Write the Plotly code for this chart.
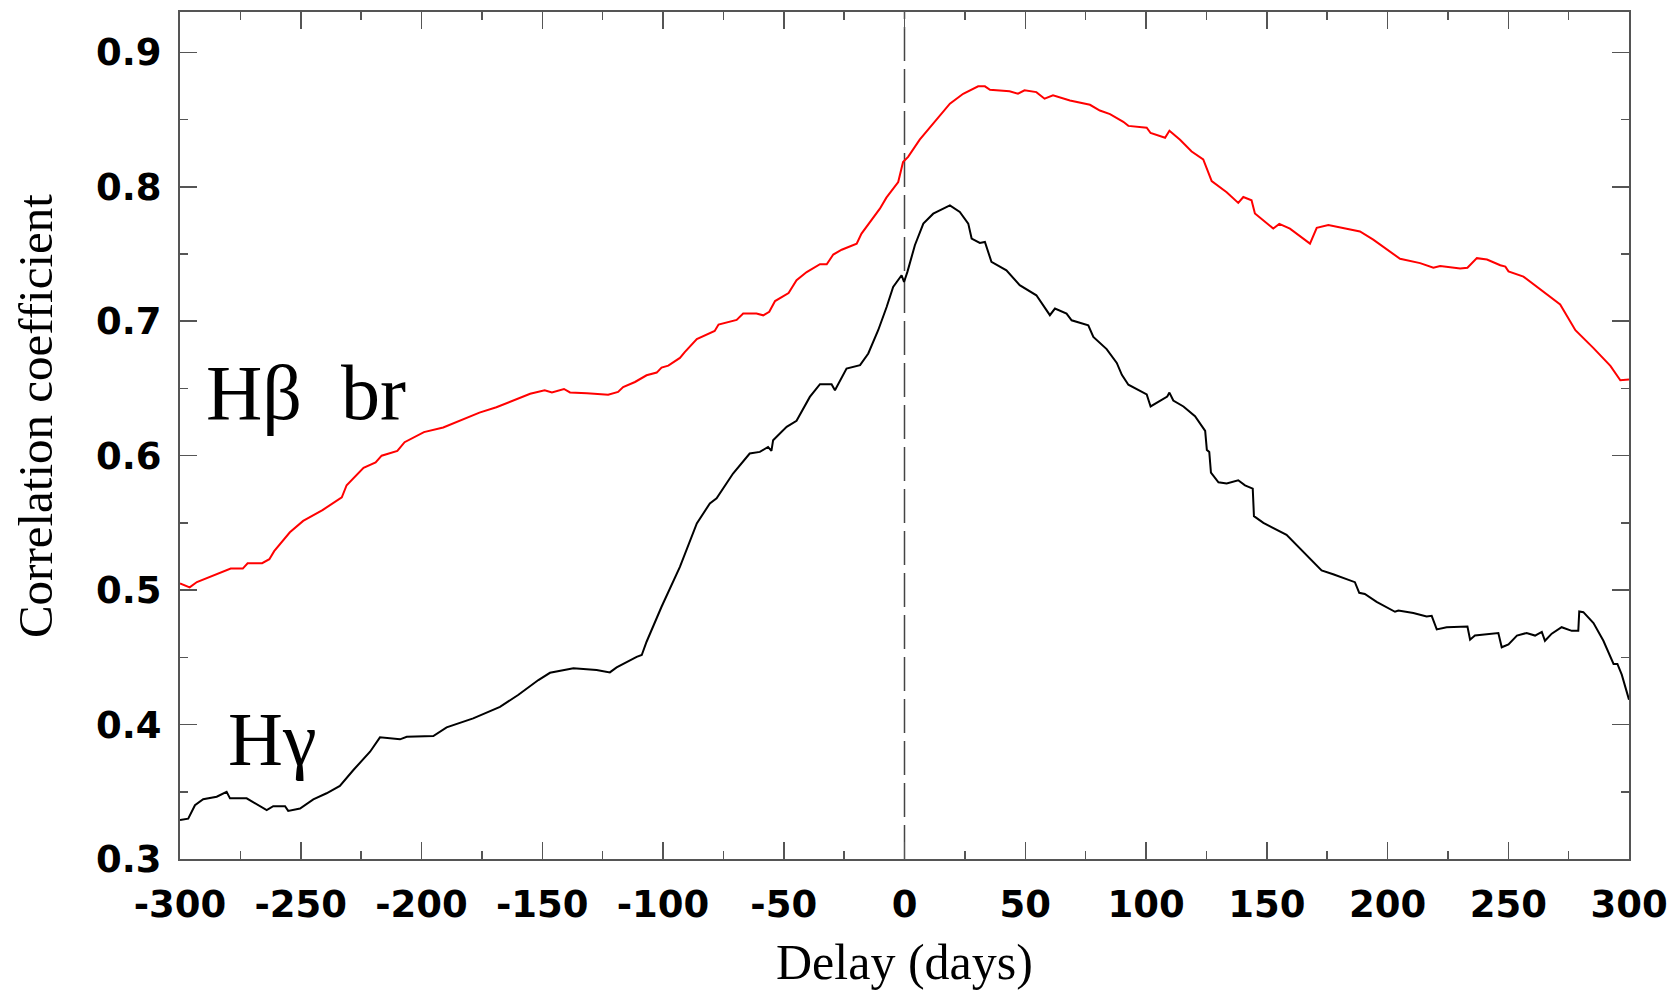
import plotly.graph_objects as go

# ---- data ----
hb_lag = [-300, -296, -293, -285, -279, -274, -272, -266, -263, -261, -254.5, -249, -241, -233, -231,
          -224, -219, -216.5, -210, -207, -199, -191, -176, -169, -162, -155, -149, -146, -141, -138.5,
          -131.5, -122.7, -118.6, -116.5, -111.6, -106.8, -102.6, -100.6, -97.8, -93, -91, -86, -78.6,
          -77, -69.5, -66.8, -61.3, -58.5, -56, -53.6, -48, -44.7, -40.5, -35, -32.2, -29.5, -26, -19.8,
          -17.8, -10.2, -7.5, -2.6, -0.6, 1.5, 6.3, 13.2, 18.8, 24.3, 30.5, 33.3, 35.4, 43.5, 47, 49.7,
          54.6, 58, 61.5, 68.5, 76.8, 80.9, 85.1, 90.6, 92.7, 100.3, 101.9, 107.9, 109.7, 114.1, 118.9,
          123.7, 127.2, 133.4, 138.2, 140.3, 143.7, 145.1, 152.7, 155.2, 159.6, 167.9, 170.7, 175.5,
          181.7, 188.6, 194.1, 199, 205.2, 213.5, 219, 221.8, 230.1, 233.1, 237, 241.2, 246.7, 248.8,
          250.1, 256.3, 264.6, 271.5, 277.8, 285.3, 292.3, 296.4, 300]
hb_r = [0.505, 0.502, 0.506, 0.512, 0.516, 0.516, 0.520, 0.520, 0.523, 0.529, 0.543, 0.5515, 0.5595,
        0.569, 0.578, 0.591, 0.595, 0.600, 0.6035, 0.610, 0.6175, 0.621, 0.632, 0.636, 0.641, 0.646,
        0.6487, 0.647, 0.6496, 0.647, 0.6464, 0.6454, 0.6474, 0.651, 0.6548, 0.6598, 0.6618, 0.6655,
        0.667, 0.6727, 0.677, 0.6868, 0.6928, 0.6975, 0.701, 0.7057, 0.7057, 0.7044, 0.707, 0.715,
        0.721, 0.7305, 0.7366, 0.7424, 0.7424, 0.7496, 0.7532, 0.7577, 0.7652, 0.7837, 0.7919, 0.8035,
        0.8184, 0.8222, 0.835, 0.8494, 0.8618, 0.8692, 0.8747, 0.8747, 0.8722, 0.8711, 0.8692, 0.8717,
        0.8704, 0.8655, 0.868, 0.8642, 0.861, 0.8567, 0.8541, 0.8483, 0.8453, 0.8439, 0.840, 0.8365,
        0.8417, 0.835, 0.8262, 0.8203, 0.8042, 0.7959, 0.788, 0.7924, 0.790, 0.7801, 0.7689, 0.7724,
        0.7689, 0.7577, 0.7695, 0.7715, 0.7695, 0.7668, 0.7607, 0.7545, 0.7464, 0.7432, 0.7398, 0.7411,
        0.7393, 0.7398, 0.7469, 0.7459, 0.7416, 0.7406, 0.7371, 0.7332, 0.7217, 0.7124, 0.6933, 0.680,
        0.6668, 0.6561, 0.6567]

hg_lag = [-300, -296.6, -293.8, -290.4, -284.8, -280.7, -279.3, -272.4, -264.1, -261.4, -256.5, -255.2,
          -250.3, -244.8, -239.3, -233.8, -228.2, -221.3, -217.2, -208.9, -206.1, -195.1, -189.6, -178.6,
          -167.5, -160, -151.6, -146.8, -137.1, -127.5, -122, -119.2, -110.9, -108.8, -106.8, -100.6, -93,
          -86, -80.6, -77.8, -71, -64.1, -59.9, -56.5, -55.1, -54.4, -48.8, -44.7, -39.2, -35, -30.2,
          -28.8, -24, -18.4, -15, -10.9, -7.4, -4.7, -1.2, -0.2, 1.2, 4.3, 7.8, 11.9, 18.8, 22.9, 26.4,
          27.8, 31.2, 33.3, 36, 42.2, 47.7, 53.2, 54.6, 60.2, 62.3, 67.1, 69.2, 76.1, 78.2, 83.7, 87.9, 90,
          92.7, 100.3, 101.9, 108.8, 109.7, 111.3, 115.5, 120.3, 124.5, 125.2, 126.2, 126.9, 130, 133.4,
          138.2, 141, 144.2, 144.7, 148.6, 158.2, 163.8, 172.7, 177.5, 186.5, 188.3, 190.6, 195.5, 203.1,
          204.5, 210.7, 216.2, 218.3, 220.4, 224.5, 233.1, 234.2, 236.2, 245.9, 247.3, 250.1, 253.6,
          257.6, 261.1, 263.9, 265.2, 268, 272.1, 276.3, 279, 279.4, 281.1, 285.3, 289.4, 293.6, 295.2,
          297, 300]
hg_r = [0.329, 0.330, 0.340, 0.3444, 0.3463, 0.350, 0.3451, 0.3451, 0.3364, 0.3393, 0.3393, 0.3358,
        0.3376, 0.3444, 0.3489, 0.3543, 0.3662, 0.3798, 0.3905, 0.389, 0.3909, 0.3914, 0.3979, 0.4046,
        0.4132, 0.422, 0.4331, 0.4385, 0.4418, 0.4405, 0.4388, 0.4425, 0.4504, 0.4517, 0.4616, 0.4876,
        0.5173, 0.5496, 0.5645, 0.5682, 0.5867, 0.6016, 0.6028, 0.6065, 0.6035, 0.6115, 0.6214, 0.6259,
        0.6437, 0.6532, 0.6532, 0.6487, 0.6648, 0.6673, 0.676, 0.6933, 0.7106, 0.7255, 0.7342, 0.7292,
        0.7367, 0.7565, 0.7726, 0.780, 0.7862, 0.7813, 0.7726, 0.7615, 0.7582, 0.759, 0.7441, 0.7379,
        0.7268, 0.7206, 0.7193, 0.7045, 0.7094, 0.7057, 0.7007, 0.697, 0.6883, 0.6793, 0.669, 0.6601,
        0.6528, 0.6455, 0.6366, 0.644, 0.6469, 0.641, 0.6366, 0.6293, 0.6184, 0.6043, 0.6028, 0.5873,
        0.5802, 0.5793, 0.5817, 0.5779, 0.5755, 0.555, 0.550, 0.5411, 0.5309, 0.5147, 0.5118, 0.5059,
        0.498, 0.4971, 0.4912, 0.4839, 0.4848, 0.483, 0.4804, 0.4809, 0.4708, 0.4724, 0.4729, 0.4631,
        0.4662, 0.4681, 0.4575, 0.4596, 0.4662, 0.4681, 0.4662, 0.4689, 0.4623, 0.4676, 0.4724, 0.4697,
        0.4697, 0.4841, 0.4836, 0.4755, 0.4623, 0.4451, 0.4451, 0.4371, 0.4185]

x_ticks = [-300, -250, -200, -150, -100, -50, 0, 50, 100, 150, 200, 250, 300]
x_ticktext = ["-300", "-250", "-200", "-150", "-100", "-50", "0", "50", "100", "150", "200", "250", "300"]
y_ticks = [0.3, 0.4, 0.5, 0.6, 0.7, 0.8, 0.9]
y_ticktext = ["0.3", "0.4", "0.5", "0.6", "0.7", "0.8", "0.9"]

label_hb = "H\u03b2\u00a0\u00a0br"
label_hg = "H\u03b3"

fig = go.Figure()
fig.add_trace(go.Scatter(x=hb_lag, y=hb_r, mode="lines",
                         line=dict(color="#ff0000", width=2), showlegend=False))
fig.add_trace(go.Scatter(x=hg_lag, y=hg_r, mode="lines",
                         line=dict(color="#000000", width=2), showlegend=False))

fig.add_shape(type="line", xref="x", yref="paper", x0=0, x1=0, y0=0, y1=1,
              line=dict(color="#444444", width=1.5, dash="34px,8px"), layer="below")

tick_font = dict(family="DejaVu Sans", size=37, color="#000000", weight="bold")
axis_common = dict(showline=True, linecolor="#555555", linewidth=2, mirror="ticks",
                   ticks="inside", ticklen=17, tickwidth=1.5, tickcolor="#555555",
                   showgrid=False, zeroline=False, tickfont=tick_font, automargin=False)

fig.update_xaxes(range=[-300, 300], tickvals=x_ticks, ticktext=x_ticktext, ticklabelstandoff=12,
                 minor=dict(ticks="inside", ticklen=8, dtick=25, tick0=0,
                            tickwidth=1.5, tickcolor="#555555", showgrid=False),
                 **axis_common)
fig.update_yaxes(range=[0.3, 0.93], tickvals=y_ticks, ticktext=y_ticktext, ticklabelstandoff=9,
                 minor=dict(ticks="inside", ticklen=8, dtick=0.05, tick0=0.3,
                            tickwidth=1.5, tickcolor="#555555", showgrid=False),
                 **axis_common)

serif = "Liberation Serif"
fig.add_annotation(text="Delay (days)", xref="paper", yref="paper", x=0.5, y=-0.122,
                   xanchor="center", yanchor="middle", showarrow=False,
                   font=dict(family=serif, size=50, color="#000000"))
fig.add_annotation(text="Correlation coefficient", xref="paper", yref="paper", x=-0.1, y=0.523,
                   xanchor="center", yanchor="middle", textangle=-90, showarrow=False,
                   font=dict(family=serif, size=49, color="#000000"))
fig.add_annotation(text=label_hb, xref="x", yref="y", x=-290, y=0.6472,
                   xanchor="left", yanchor="middle", showarrow=False,
                   font=dict(family=serif, size=78, color="#000000"))
fig.add_annotation(text=label_hg, xref="x", yref="y", x=-281, y=0.389,
                   xanchor="left", yanchor="middle", showarrow=False,
                   font=dict(family=serif, size=76, color="#000000"))

fig.update_layout(width=1671, height=990, margin=dict(l=180, r=42, t=12, b=131),
                  plot_bgcolor="white", paper_bgcolor="white", showlegend=False)

fig.write_html("out.html", config={"displayModeBar": False, "staticPlot": True},
               post_script="document.body.style.margin='0';document.body.style.overflow='hidden';")
